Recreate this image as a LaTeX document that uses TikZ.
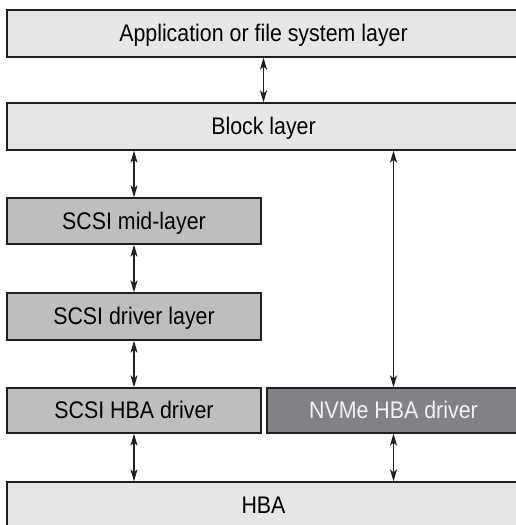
\documentclass[tikz,border=0pt]{standalone}
\usepackage{fontspec}
\setmainfont{Liberation Sans}[FakeStretch=0.89]
\usetikzlibrary{arrows.meta}

\definecolor{cinzaclaro}{HTML}{E6E7E8}
\definecolor{cinzamedio}{HTML}{BCBEC0}
\definecolor{cinzaescuro}{HTML}{808285}
\definecolor{borda}{HTML}{231F20}

\begin{document}
\begin{tikzpicture}[x=1pt, y=-1pt,
    camada/.style={draw=borda, line width=1.3pt, inner sep=0pt,
        minimum height=47pt, text height=16.5pt, text depth=0pt,
        font=\fontsize{24}{28}\selectfont},
    seta/.style={{Stealth[length=12pt,width=7pt,inset=3pt]}-{Stealth[length=12pt,width=7pt,inset=3pt]},
        line width=1.3pt, draw=borda}]
    \useasboundingbox (0,0) rectangle (516,525);

    % Camadas de cima (largura toda)
    \node[camada, fill=cinzaclaro, minimum width=513pt] (app) at (263.5,33.5) {Application or file system layer};
    \node[camada, fill=cinzaclaro, minimum width=513pt] (block) at (263.5,126.5) {Block layer};

    % Pilha SCSI
    \node[camada, fill=cinzamedio, minimum width=254pt, minimum height=46pt] (mid) at (134,221) {SCSI mid-layer};
    \node[camada, fill=cinzamedio, minimum width=254pt] (driver) at (134,316.5) {SCSI driver layer};
    \node[camada, fill=cinzamedio, minimum width=254pt, minimum height=45pt] (scsihba) at (134,410.5) {SCSI HBA driver};

    % Caminho NVMe
    \node[camada, fill=cinzaescuro, text=cinzaclaro!50!white, minimum width=253pt, minimum height=45pt] (nvme) at (393.5,410.5) {NVMe HBA driver};

    % Hardware
    \node[camada, fill=cinzaclaro, minimum width=513pt] (hba) at (263.5,505.5) {HBA};

    % Setas
    \draw[seta] (app.south) -- (block.north);
    \draw[seta] (block.south -| mid.north) -- (mid.north);
    \draw[seta] (mid.south) -- (driver.north);
    \draw[seta] (driver.south) -- (scsihba.north);
    \draw[seta] (scsihba.south) -- (scsihba.south |- hba.north);
    \draw[seta] (block.south -| nvme.north) -- (nvme.north);
    \draw[seta] (nvme.south) -- (nvme.south |- hba.north);
\end{tikzpicture}
\end{document}
